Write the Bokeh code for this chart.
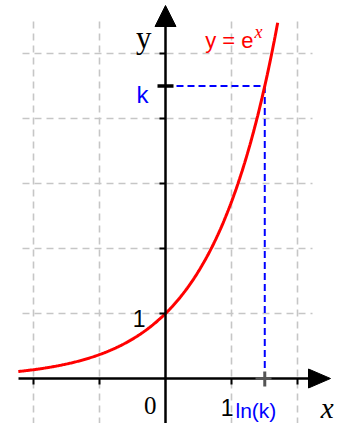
import numpy as np
from bokeh.plotting import figure
from bokeh.models import Range1d, Label
from bokeh.embed import file_html
from bokeh.resources import INLINE

# --- values shown on the chart ---
grid_x = [-2, -1, 1, 2]          # vertical grid lines / x ticks
grid_y = [1, 2, 3, 4, 5]         # horizontal grid lines / y ticks
k = 4.5                          # chosen level on the y axis
ln_k = float(np.log(k))
curve_x_start, curve_x_end = -2.23, 1.70

# --- canvas geometry (pixels) ---
W, H = 344, 423
X0, UX = 165, 66                 # pixel column of x=0, pixels per x unit
Y0, UY = 378, 65                 # pixel row of y=0, pixels per y unit


def fx(px):
    return (px - X0) / UX


def fy(py):
    return (Y0 - py) / UY


p = figure(width=W, height=H, output_backend="svg", toolbar_location=None,
           x_range=Range1d(fx(0), fx(W)), y_range=Range1d(fy(H), fy(0)),
           x_axis_location=None, y_axis_location=None, min_border=0)
p.outline_line_color = None
p.grid.visible = False
p.background_fill_color = "white"
p.border_fill_color = "white"

GRID = "#c6c6c6"
# dashed grid
p.segment(x0=grid_x, y0=[fy(21)] * len(grid_x), x1=grid_x, y1=[fy(H)] * len(grid_x),
          line_color=GRID, line_width=1.6, line_dash="7 5")
p.segment(x0=[fx(22)] * len(grid_y), y0=grid_y, x1=[fx(312)] * len(grid_y), y1=grid_y,
          line_color=GRID, line_width=1.6, line_dash="7 5")

# guides from k to the curve and down to ln(k)
BLUE = "#0000ff"
p.segment(x0=[fx(176)], y0=[k], x1=[ln_k], y1=[k], line_color=BLUE, line_width=2, line_dash="7 4")
p.segment(x0=[ln_k], y0=[k], x1=[ln_k], y1=[fy(372)], line_color=BLUE, line_width=2, line_dash="7 4")

# exponential curve
xs = np.linspace(curve_x_start, curve_x_end, 300)
p.line(xs, np.exp(xs), line_color="#ff0000", line_width=3)

# axes with arrow heads
p.segment(x0=[fx(18)], y0=[0], x1=[fx(310)], y1=[0], line_color="black", line_width=2.5)
p.segment(x0=[0], y0=[fy(H)], x1=[0], y1=[fy(24)], line_color="black", line_width=2.5)
p.patch([fx(308), fx(330), fx(308)], [fy(368.5), 0, fy(387.5)], color="black")
p.patch([fx(154.5), 0, fx(175.5)], [fy(26), fy(5), fy(26)], color="black")

# tick marks
p.segment(x0=grid_x, y0=[0] * len(grid_x), x1=grid_x, y1=[fy(384)] * len(grid_x),
          line_color="black", line_width=2)
p.segment(x0=[fx(159)] * len(grid_y), y0=grid_y, x1=[0] * len(grid_y), y1=grid_y,
          line_color="black", line_width=2)
p.segment(x0=[fx(157)], y0=[k], x1=[fx(173)], y1=[k], line_color="black", line_width=3.5)
p.segment(x0=[ln_k], y0=[fy(371)], x1=[ln_k], y1=[fy(386)], line_color="#555555", line_width=3)
p.segment(x0=[fx(255)], y0=[0], x1=[fx(271)], y1=[0], line_color="#555555", line_width=3)

SERIF = "Liberation Serif"
SANS = "Liberation Sans"


def label(px, py, txt, font, size, color="black", align="left", style="normal"):
    p.add_layout(Label(x=fx(px), y=fy(py), text=txt, text_font=font, text_font_size=size,
                       text_color=color, text_align=align, text_baseline="alphabetic",
                       text_font_style=style))


label(151, 37, "y", SERIF, "31px", align="right")
label(333, 407, "x", SERIF, "29px", align="right", style="italic")
label(156, 405, "0", SERIF, "25px", align="right")
label(145, 318, "1", SANS, "23px", align="right")
label(233, 407, "1", SANS, "23px", align="right")
label(148, 94, "k", SANS, "24px", color=BLUE, align="right")
label(235, 410, "ln(k)", SANS, "21px", color=BLUE)
label(253, 40, "y = e", SANS, "22px", color="#ff0000", align="right")
label(254, 31, "x", SERIF, "18px", color="#ff0000", style="italic")

open("out.html", "w").write(file_html(p, INLINE))
